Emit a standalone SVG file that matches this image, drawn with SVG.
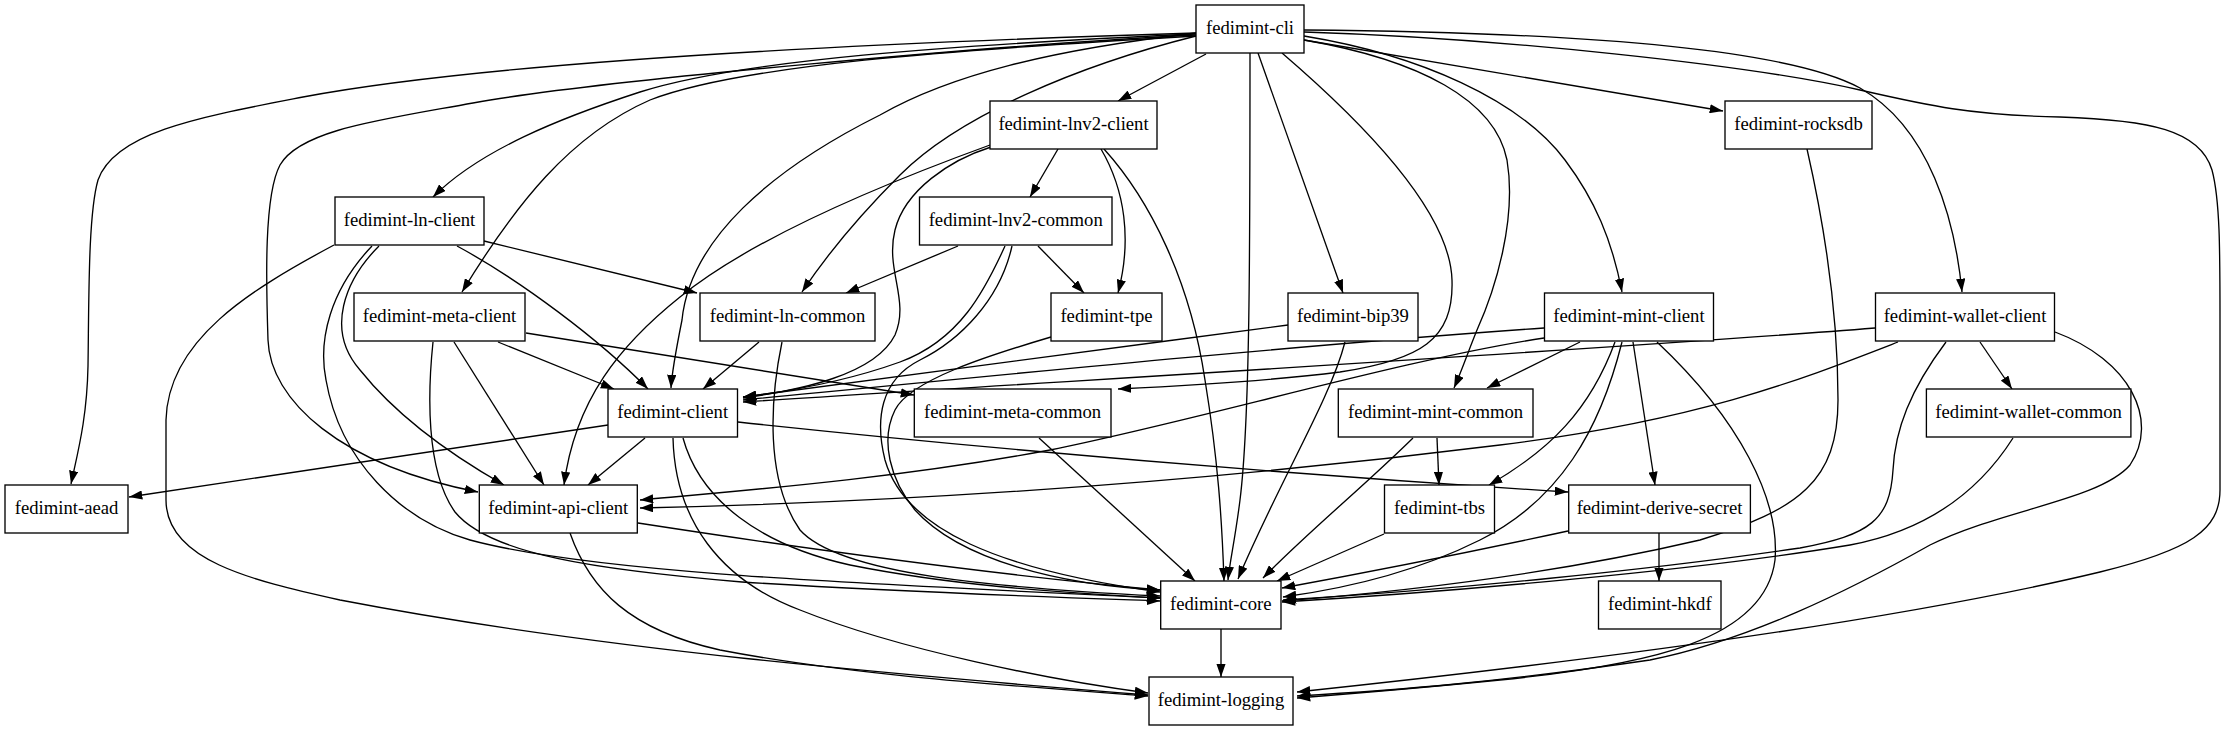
<svg xmlns="http://www.w3.org/2000/svg" width="2225" height="731" viewBox="0 0 2225 731">
<defs>
<marker id="ah" viewBox="0 0 10 7" refX="10" refY="3.5" markerWidth="13.3" markerHeight="9.3" markerUnits="userSpaceOnUse" orient="auto"><path d="M0,0 L10,3.5 L0,7 z" fill="#000"/></marker>
</defs>
<style>
.n rect{fill:#fff;stroke:#000;stroke-width:1.33}
.n text{font-family:"Liberation Serif","Times New Roman",serif;font-size:18.67px;text-anchor:middle;fill:#000}
#edges path{fill:none;stroke:#000;stroke-width:1.33;marker-end:url(#ah)}
</style>
<rect width="2225" height="731" fill="#fff"/>
<g id="edges">
<path d="M1196,33 C900,42 500,60 303,97 C200,117 115,132 98,180 C88,215 89,300 88,366 C87,420 77,455 71,484"/>
<path d="M1196,35 C1000,45 600,80 473,103 C380,120 300,130 280,165 C264,195 266,280 268,340 C270,400 340,465 478,492"/>
<path d="M1196,34 C950,45 740,60 640,92 C560,118 480,150 433,197"/>
<path d="M1196,36 C950,50 740,65 650,100 C570,135 515,205 462,292"/>
<path d="M1196,36 C1080,65 960,115 900,175 C860,215 830,250 802,292"/>
<path d="M1196,33 C1050,50 950,75 880,115 C770,170 690,240 682,320 C676,350 672,370 671,388"/>
<path d="M1206,54 L1118,101"/>
<path d="M1250,53 C1250,250 1250,420 1240,500 C1235,540 1230,560 1228,580"/>
<path d="M1258,53 L1343,293"/>
<path d="M1282,53 C1360,120 1450,210 1452,280 C1454,340 1420,360 1340,372 C1260,382 1180,386 1118,389"/>
<path d="M1304,40 C1420,60 1495,100 1507,160 C1517,220 1495,290 1477,330 C1468,352 1462,370 1454,388"/>
<path d="M1304,36 C1420,55 1520,100 1565,160 C1595,200 1612,240 1622,292"/>
<path d="M1304,40 L1723,111"/>
<path d="M1304,30 C1550,32 1780,45 1860,88 C1930,128 1955,220 1962,292"/>
<path d="M1304,32 C1500,38 1750,65 1860,90 C1930,106 1970,115 2060,117 C2150,120 2200,130 2212,170 C2220,200 2220,250 2220,320 L2220,490 C2220,530 2190,550 2100,572 C1900,620 1600,660 1297,692"/>
<path d="M1058,149 L1030,197"/>
<path d="M1101,149 C1125,190 1132,240 1118,293"/>
<path d="M1104,149 C1150,200 1190,280 1205,380 C1218,460 1222,520 1224,581"/>
<path d="M991,147 C950,160 905,190 895,230 C885,270 910,300 895,335 C875,375 800,390 743,398"/>
<path d="M990,145 C880,185 750,240 680,297 C620,345 575,400 564,485"/>
<path d="M484,241 L697,293"/>
<path d="M457,246 C520,280 600,340 648,389"/>
<path d="M379,246 C345,280 325,330 360,370 C400,420 460,460 504,485"/>
<path d="M372,246 C330,290 318,340 326,380 C340,460 400,520 470,540 C600,575 900,585 1160,598"/>
<path d="M334,245 C250,290 168,340 166,420 L166,500 C166,560 250,580 340,600 C600,650 900,675 1148,695"/>
<path d="M498,342 L614,389"/>
<path d="M454,342 L544,485"/>
<path d="M433,342 C428,390 425,470 455,512 C490,555 600,570 742,582 C900,592 1050,597 1160,601"/>
<path d="M526,333 L914,395"/>
<path d="M958,246 L846,293"/>
<path d="M1038,246 L1084,293"/>
<path d="M1005,246 C985,290 960,340 900,362 C850,380 800,390 743,397"/>
<path d="M1012,246 C1000,300 960,340 920,360 C880,380 875,420 885,460 C905,530 1000,570 1160,592"/>
<path d="M759,342 L703,389"/>
<path d="M782,342 C770,400 765,480 800,530 C840,575 1000,588 1160,596"/>
<path d="M1051,337 C990,355 910,380 895,410 C880,440 890,480 915,510 C960,560 1060,585 1160,590"/>
<path d="M1288,325 C1100,350 900,375 743,397"/>
<path d="M1345,342 C1330,400 1280,480 1238,579"/>
<path d="M1544,328 C1300,345 1000,375 743,400"/>
<path d="M1544,338 C1400,360 1200,420 1050,450 C900,478 750,490 640,500"/>
<path d="M1580,342 L1487,388"/>
<path d="M1615,342 C1590,410 1550,450 1489,485"/>
<path d="M1622,342 C1600,430 1560,500 1480,540 C1420,570 1350,588 1283,597"/>
<path d="M1633,342 L1655,485"/>
<path d="M1657,342 C1740,420 1780,500 1775,560 C1765,640 1650,665 1500,680 C1420,688 1360,693 1297,698"/>
<path d="M1875,328 C1600,350 1000,385 743,402"/>
<path d="M1898,342 C1800,380 1700,420 1500,445 C1300,470 1000,500 640,508"/>
<path d="M1980,342 L2012,389"/>
<path d="M1946,342 C1910,390 1895,430 1893,470 C1890,520 1870,535 1800,548 C1650,570 1450,590 1283,600"/>
<path d="M2055,332 C2130,360 2160,420 2130,465 C2100,500 2000,510 1930,545 C1850,590 1750,640 1650,660 C1500,682 1400,690 1297,696"/>
<path d="M608,425 L129,497"/>
<path d="M645,438 L588,485"/>
<path d="M738,422 C1000,450 1300,475 1568,492"/>
<path d="M683,438 C700,500 760,545 850,565 C950,585 1050,592 1160,598"/>
<path d="M673,438 C675,520 720,580 800,610 C900,650 1050,680 1148,693"/>
<path d="M1039,438 L1195,581"/>
<path d="M1437,438 L1439,485"/>
<path d="M1413,438 C1360,490 1310,530 1263,578"/>
<path d="M638,523 C800,548 1000,575 1160,590"/>
<path d="M570,533 C590,590 630,630 720,650 C850,675 1000,685 1148,696"/>
<path d="M1384,534 L1277,581"/>
<path d="M1568,531 C1480,550 1380,570 1282,588"/>
<path d="M1659,533 L1659,581"/>
<path d="M2013,438 C1980,490 1930,530 1850,545 C1700,570 1450,592 1282,602"/>
<path d="M1807,149 C1830,250 1838,330 1838,400 C1838,480 1800,510 1700,540 C1550,575 1400,592 1282,601"/>
<path d="M1221,629 L1221,677"/>
</g>
<g id="n-cli" class="n"><rect x="1196" y="5" width="108" height="48"/><text x="1250" y="34">fedimint-cli</text></g>
<g id="n-lnv2-client" class="n"><rect x="990" y="101" width="167" height="48"/><text x="1073.5" y="130">fedimint-lnv2-client</text></g>
<g id="n-rocksdb" class="n"><rect x="1725" y="101" width="147" height="48"/><text x="1798.5" y="130">fedimint-rocksdb</text></g>
<g id="n-ln-client" class="n"><rect x="335" y="197" width="149" height="48"/><text x="409.5" y="226">fedimint-ln-client</text></g>
<g id="n-lnv2-common" class="n"><rect x="919.5" y="197" width="192.5" height="48"/><text x="1015.7" y="226">fedimint-lnv2-common</text></g>
<g id="n-meta-client" class="n"><rect x="354" y="293" width="171" height="48"/><text x="439.5" y="322">fedimint-meta-client</text></g>
<g id="n-ln-common" class="n"><rect x="700" y="293" width="175" height="48"/><text x="787.5" y="322">fedimint-ln-common</text></g>
<g id="n-tpe" class="n"><rect x="1051" y="293" width="111" height="48"/><text x="1106.5" y="322">fedimint-tpe</text></g>
<g id="n-bip39" class="n"><rect x="1288" y="293" width="130" height="48"/><text x="1353" y="322">fedimint-bip39</text></g>
<g id="n-mint-client" class="n"><rect x="1544.5" y="293" width="169" height="48"/><text x="1629" y="322">fedimint-mint-client</text></g>
<g id="n-wallet-client" class="n"><rect x="1875.5" y="293" width="179" height="48"/><text x="1965" y="322">fedimint-wallet-client</text></g>
<g id="n-client" class="n"><rect x="608" y="389" width="129.5" height="48"/><text x="672.7" y="418">fedimint-client</text></g>
<g id="n-meta-common" class="n"><rect x="914.3" y="389" width="196.7" height="48"/><text x="1012.6" y="418">fedimint-meta-common</text></g>
<g id="n-mint-common" class="n"><rect x="1338.3" y="389" width="194.7" height="48"/><text x="1435.6" y="418">fedimint-mint-common</text></g>
<g id="n-wallet-common" class="n"><rect x="1926.4" y="389" width="204.5" height="48"/><text x="2028.6" y="418">fedimint-wallet-common</text></g>
<g id="n-aead" class="n"><rect x="5" y="485" width="123" height="48"/><text x="66.5" y="514">fedimint-aead</text></g>
<g id="n-api-client" class="n"><rect x="479.3" y="485" width="158" height="48"/><text x="558.3" y="514">fedimint-api-client</text></g>
<g id="n-tbs" class="n"><rect x="1384.5" y="485" width="110" height="48"/><text x="1439.5" y="514">fedimint-tbs</text></g>
<g id="n-derive-secret" class="n"><rect x="1568.7" y="485" width="181.7" height="48"/><text x="1659.5" y="514">fedimint-derive-secret</text></g>
<g id="n-core" class="n"><rect x="1160.7" y="581" width="120.3" height="48"/><text x="1220.8" y="610">fedimint-core</text></g>
<g id="n-hkdf" class="n"><rect x="1598.5" y="581" width="122.5" height="48"/><text x="1659.8" y="610">fedimint-hkdf</text></g>
<g id="n-logging" class="n"><rect x="1149" y="677" width="144" height="48"/><text x="1221" y="706">fedimint-logging</text></g>
</svg>
